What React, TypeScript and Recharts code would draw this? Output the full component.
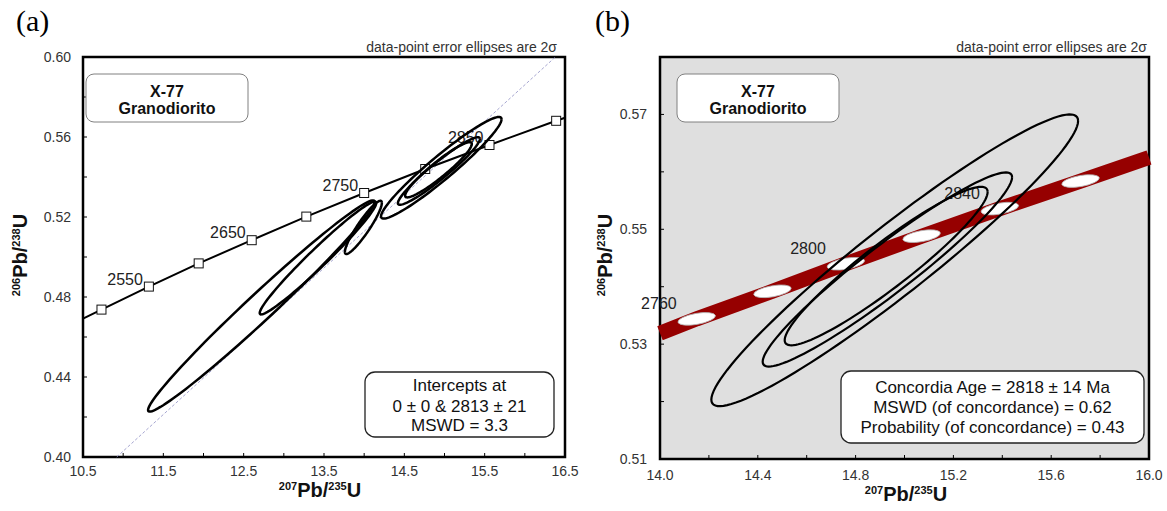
import React from 'react';
import { ScatterChart, Scatter, XAxis, YAxis, ReferenceArea, CartesianGrid } from 'recharts';

const FONT = 'Arial, "Liberation Sans", Helvetica, sans-serif';
const SERIF = '"Times New Roman", "Liberation Serif", serif';

// (a) concordia age marks, Ma, with 207Pb/235U and 206Pb/238U
const agesA = [2500, 2550, 2600, 2650, 2700, 2750, 2800, 2850, 2900];
const pb75A = [10.73, 11.32, 11.94, 12.6, 13.28, 14.0, 14.76, 15.56, 16.39];
const pb68A = [0.4737, 0.4852, 0.4968, 0.5084, 0.5202, 0.532, 0.544, 0.556, 0.5681];
const labeledA = [2550, 2650, 2750, 2850];
// where the curve meets the frame
const curveEndX = [10.5, 16.5];
const curveEndY = [0.4692, 0.5696];
// discordia reference line (through origin)
const discX = [10.92, 16.38];
const discY = [0.4, 0.6];

// (b) concordia band marks
const agesB = [2760, 2780, 2800, 2820, 2840, 2860];
const pb75B = [14.15, 14.46, 14.76, 15.07, 15.39, 15.72];
const pb68B = [0.5344, 0.5392, 0.544, 0.5488, 0.5536, 0.5584];
const labeledB = [2760, 2800, 2840];
const bandEndX = [14.0, 16.0];
const bandEndY = [0.5319, 0.5625];

// 2-sigma error ellipses: centre, half-widths, correlation
const ellCx = [12.72, 13.425, 13.99, 14.96, 14.93, 14.925];
const ellCy = [0.4755, 0.4995, 0.5148, 0.5446, 0.543, 0.5436];
const ellSx = [1.41, 0.725, 0.23, 0.75, 0.51, 0.415];
const ellSy = [0.0528, 0.0282, 0.0133, 0.0254, 0.0169, 0.0138];
const ellRho = [0.985, 0.975, 0.92, 0.955, 0.95, 0.935];
const ellInB = [3, 4, 5];

const xTicksA = [10.5, 11, 11.5, 12, 12.5, 13, 13.5, 14, 14.5, 15, 15.5, 16, 16.5];
const yTicksA = [0.4, 0.42, 0.44, 0.46, 0.48, 0.5, 0.52, 0.54, 0.56, 0.58, 0.6];
const xTicksB = [14.0, 14.2, 14.4, 14.6, 14.8, 15.0, 15.2, 15.4, 15.6, 15.8, 16.0];
const yTicksB = [0.51, 0.52, 0.53, 0.54, 0.55, 0.56, 0.57, 0.58];

const tickStyle = { fontSize: 14, fill: '#333', fontFamily: FONT };

function outline(i: number) {
  const pts = [];
  const r = ellRho[i];
  for (let k = 0; k <= 120; k++) {
    const t = (k / 120) * 2 * Math.PI;
    pts.push({
      x: ellCx[i] + ellSx[i] * Math.cos(t),
      y: ellCy[i] + ellSy[i] * (r * Math.cos(t) + Math.sqrt(1 - r * r) * Math.sin(t)),
    });
  }
  return pts;
}

const noDot = () => <g />;

const marksA = agesA.map((a, i) => ({ x: pb75A[i], y: pb68A[i], label: labeledA.includes(a) ? String(a) : '' }));
const curveA = [{ x: curveEndX[0], y: curveEndY[0] }, ...marksA, { x: curveEndX[1], y: curveEndY[1] }];
const discA = [{ x: discX[0], y: discY[0] }, { x: discX[1], y: discY[1] }];

const marksB = agesB.map((a, i) => ({ x: pb75B[i], y: pb68B[i], label: labeledB.includes(a) ? String(a) : '' }));
const bandB = [{ x: bandEndX[0], y: bandEndY[0] }, ...marksB, { x: bandEndX[1], y: bandEndY[1] }];

const squareMark = (p: any) => {
  const { cx, cy, payload } = p;
  return (
    <g>
      <rect x={cx - 4.5} y={cy - 4.5} width={9} height={9} fill="#fff" stroke="#111" strokeWidth={1} />
      {payload.label ? (
        <text x={cx - 6} y={cy - 2} textAnchor="end" fontSize={16} fill="#222" fontFamily={FONT}>
          {payload.label}
        </text>
      ) : null}
    </g>
  );
};

const ovalMark = (p: any) => {
  const { cx, cy, payload } = p;
  return (
    <g>
      <ellipse cx={cx} cy={cy} rx={19} ry={5.5} transform={`rotate(-10 ${cx} ${cy})`} fill="#fff" stroke="#b4b4b4" strokeWidth={0.8} />
      {payload.label ? (
        <text x={cx - 20} y={cy - 10} textAnchor="end" fontSize={16} fill="#222" fontFamily={FONT}>
          {payload.label}
        </text>
      ) : null}
    </g>
  );
};

function PanelA() {
  return (
    <ScatterChart width={580} height={511} margin={{ top: 57, right: 15, bottom: 0, left: 0 }}>
      <XAxis
        type="number"
        dataKey="x"
        domain={[10.5, 16.5]}
        ticks={xTicksA}
        interval={0}
        height={54}
        tickSize={-4}
        tickMargin={13}
        axisLine={false}
        tickLine={{ stroke: '#000' }}
        tick={tickStyle}
        tickFormatter={(v: number) => (Math.round(v * 2) % 2 === 1 ? v.toFixed(1) : '')}
      />
      <YAxis
        type="number"
        dataKey="y"
        domain={[0.4, 0.6]}
        ticks={yTicksA}
        interval={0}
        width={83}
        tickSize={-4}
        tickMargin={16}
        axisLine={false}
        tickLine={{ stroke: '#000' }}
        tick={tickStyle}
        tickFormatter={(v: number) => (Math.round(v * 100) % 4 === 0 ? v.toFixed(2) : '')}
      />
      <Scatter data={discA} line={{ stroke: '#8f8fc4', strokeWidth: 0.8, strokeDasharray: '3 2' }} shape={noDot} isAnimationActive={false} />
      <Scatter data={curveA} line={{ stroke: '#000', strokeWidth: 2 }} shape={noDot} isAnimationActive={false} />
      <Scatter data={marksA} shape={squareMark} isAnimationActive={false} />
      {ellCx.map((_, i) => (
        <Scatter key={i} data={outline(i)} line={{ stroke: '#000', strokeWidth: 2.5 }} shape={noDot} isAnimationActive={false} />
      ))}
      <ReferenceArea x1={10.5} x2={16.5} y1={0.4} y2={0.6} fill="none" fillOpacity={0} stroke="#000" strokeWidth={2.5} />
    </ScatterChart>
  );
}

function PanelB() {
  return (
    <ScatterChart width={587} height={511} margin={{ top: 57, right: 18, bottom: 0, left: 0 }}>
      <CartesianGrid fill="#dfdfdf" horizontal={false} vertical={false} />
      <XAxis
        type="number"
        dataKey="x"
        domain={[14, 16]}
        ticks={xTicksB}
        interval={0}
        height={52}
        tickSize={-4}
        tickMargin={15}
        axisLine={false}
        tickLine={{ stroke: '#000' }}
        tick={tickStyle}
        tickFormatter={(v: number) => (Math.round(v * 10) % 4 === 0 ? v.toFixed(1) : '')}
      />
      <YAxis
        type="number"
        dataKey="y"
        domain={[0.51, 0.58]}
        ticks={yTicksB}
        interval={0}
        width={80}
        tickSize={-4}
        tickMargin={17}
        axisLine={false}
        tickLine={{ stroke: '#000' }}
        tick={tickStyle}
        tickFormatter={(v: number) => (Math.round(v * 100) % 2 === 1 ? v.toFixed(2) : '')}
      />
      <Scatter data={bandB} line={{ stroke: '#960000', strokeWidth: 15 }} shape={noDot} isAnimationActive={false} />
      <Scatter data={marksB} shape={ovalMark} isAnimationActive={false} />
      {ellInB.map((i) => (
        <Scatter key={i} data={outline(i)} line={{ stroke: '#000', strokeWidth: 2.2 }} shape={noDot} isAnimationActive={false} />
      ))}
      <ReferenceArea x1={14} x2={16} y1={0.51} y2={0.58} fill="none" fillOpacity={0} stroke="#000" strokeWidth={2.5} />
    </ScatterChart>
  );
}

function AxisTitle({ x, y, a, b, rotate }: { x: number; y: number; a: string; b: string; rotate?: boolean }) {
  return (
    <text
      x={x}
      y={y}
      textAnchor="middle"
      fontWeight="bold"
      fontFamily={FONT}
      fill="#111"
      transform={rotate ? `rotate(-90 ${x} ${y})` : undefined}
    >
      <tspan fontSize={11} dy={-7}>{a}</tspan>
      <tspan fontSize={20} dy={7}>Pb/</tspan>
      <tspan fontSize={11} dy={-7}>{b}</tspan>
      <tspan fontSize={20} dy={7}>U</tspan>
    </text>
  );
}

function SampleBox({ x }: { x: number }) {
  return (
    <g>
      <rect x={x} y={74} width={162} height={48} rx={8} fill="#fff" stroke="#808080" strokeWidth={1} />
      <text x={x + 81} y={97} textAnchor="middle" fontSize={16} fontWeight="bold" fontFamily={FONT} fill="#111">X-77</text>
      <text x={x + 81} y={114} textAnchor="middle" fontSize={16} fontWeight="bold" fontFamily={FONT} fill="#111">Granodiorito</text>
    </g>
  );
}

export default function App() {
  return (
    <div style={{ position: 'absolute', left: 0, top: 0, width: 1167, height: 511, background: '#fff', overflow: 'hidden' }}>
      <div style={{ position: 'absolute', left: 0, top: 0 }}>
        <PanelA />
      </div>
      <div style={{ position: 'absolute', left: 580, top: 0 }}>
        <PanelB />
      </div>
      <svg width={1167} height={511} style={{ position: 'absolute', left: 0, top: 0, pointerEvents: 'none' }}>
        <text x={16} y={31} fontSize={30} fontFamily={SERIF} fill="#000">(a)</text>
        <text x={595} y={31} fontSize={30} fontFamily={SERIF} fill="#000">(b)</text>
        <text x={557} y={52} textAnchor="end" fontSize={14} fontFamily={FONT} fill="#333">data-point error ellipses are 2σ</text>
        <text x={1147} y={52} textAnchor="end" fontSize={14} fontFamily={FONT} fill="#333">data-point error ellipses are 2σ</text>

        <SampleBox x={86} />
        <SampleBox x={677} />

        <rect x={365} y={372} width={189} height={65} rx={10} fill="#fff" stroke="#222" strokeWidth={1.3} />
        <text textAnchor="middle" fontSize={17} fontFamily={FONT} fill="#111">
          <tspan x={459.5} y={391}>Intercepts at</tspan>
          <tspan x={459.5} y={412}>0 ± 0 &amp; 2813 ± 21</tspan>
          <tspan x={459.5} y={431}>MSWD = 3.3</tspan>
        </text>

        <rect x={841} y={371} width={303} height={72} rx={10} fill="#fff" stroke="#222" strokeWidth={1.3} />
        <text textAnchor="middle" fontSize={17} fontFamily={FONT} fill="#111">
          <tspan x={992.5} y={393}>Concordia Age = 2818 ± 14 Ma</tspan>
          <tspan x={992.5} y={413}>MSWD (of concordance) = 0.62</tspan>
          <tspan x={992.5} y={433}>Probability (of concordance) = 0.43</tspan>
        </text>

        <AxisTitle x={320} y={497} a="207" b="235" />
        <AxisTitle x={906} y={501} a="207" b="235" />
        <AxisTitle x={27} y={255} a="206" b="238" rotate />
        <AxisTitle x={612} y={255} a="206" b="238" rotate />
      </svg>
    </div>
  );
}
